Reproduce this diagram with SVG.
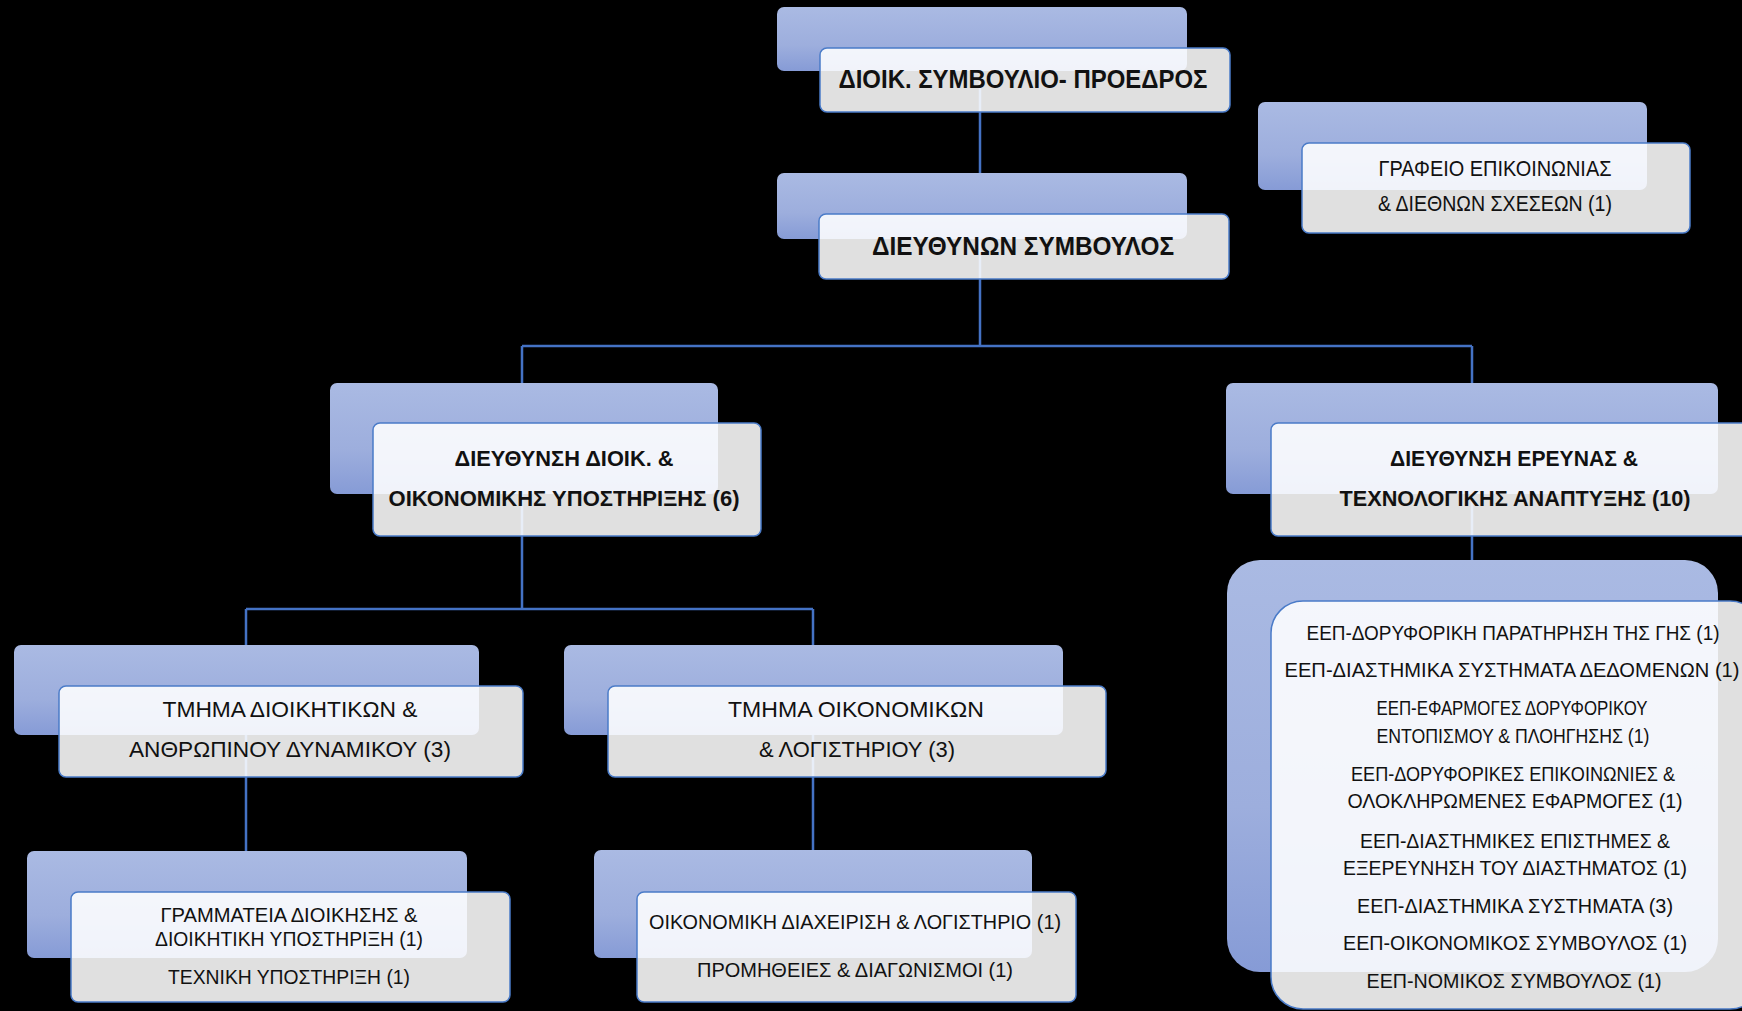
<svg xmlns="http://www.w3.org/2000/svg" width="1742" height="1011" viewBox="0 0 1742 1011">
<defs>
<linearGradient id="gb" x1="0" y1="0" x2="0" y2="1">
<stop offset="0" stop-color="#AABAE3"/>
<stop offset="0.6" stop-color="#9DAEDD"/>
<stop offset="1" stop-color="#869BD6"/>
</linearGradient>
<style>
.back{fill:url(#gb);}
.front{fill:#FFFFFF;fill-opacity:0.88;stroke:#4A7BC8;stroke-width:1.5;}
.t{font-family:"Liberation Sans",Arial,sans-serif;fill:#111111;text-anchor:middle;}
.b{font-weight:bold;}
.conn{stroke:#4472C4;stroke-width:2.5;fill:none;}
</style>
</defs>
<rect x="0" y="0" width="1742" height="1011" fill="#000000"/>
<g id="connectors">
<path class="conn" d="M980 80 V346"/>
<path class="conn" d="M522 346 H1472"/>
<path class="conn" d="M522 346 V609"/>
<path class="conn" d="M1472 346 V562"/>
<path class="conn" d="M246 609 H813"/>
<path class="conn" d="M246 609 V852"/>
<path class="conn" d="M813 609 V851"/>
</g>
<g id="node-board">
<rect class="back" x="777" y="7" width="410" height="64" rx="7"/>
<rect class="front" x="820" y="48" width="410" height="64" rx="7"/>
<text class="t b" x="1023" y="88" font-size="25" textLength="369" lengthAdjust="spacingAndGlyphs">ΔΙΟΙΚ. ΣΥΜΒΟΥΛΙΟ- ΠΡΟΕΔΡΟΣ</text>
</g>
<g id="node-ceo">
<rect class="back" x="777" y="173" width="410" height="66" rx="7"/>
<rect class="front" x="819" y="214" width="410" height="65" rx="7"/>
<text class="t b" x="1023" y="255" font-size="25" textLength="302" lengthAdjust="spacingAndGlyphs">ΔΙΕΥΘΥΝΩΝ ΣΥΜΒΟΥΛΟΣ</text>
</g>
<g id="node-comm">
<rect class="back" x="1258" y="102" width="389" height="88" rx="7"/>
<rect class="front" x="1302" y="143" width="388" height="90" rx="7"/>
<text class="t" x="1495" y="176" font-size="21.5" textLength="233" lengthAdjust="spacingAndGlyphs">ΓΡΑΦΕΙΟ ΕΠΙΚΟΙΝΩΝΙΑΣ</text>
<text class="t" x="1495" y="211" font-size="21.5" textLength="234" lengthAdjust="spacingAndGlyphs">&amp; ΔΙΕΘΝΩΝ ΣΧΕΣΕΩΝ (1)</text>
</g>
<g id="node-admin-dir">
<rect class="back" x="330" y="383" width="388" height="111" rx="7"/>
<rect class="front" x="373" y="423" width="388" height="113" rx="7"/>
<text class="t b" x="564" y="466" font-size="22" textLength="219" lengthAdjust="spacingAndGlyphs">ΔΙΕΥΘΥΝΣΗ ΔΙΟΙΚ. &amp;</text>
<text class="t b" x="564" y="506" font-size="22" textLength="351" lengthAdjust="spacingAndGlyphs">ΟΙΚΟΝΟΜΙΚΗΣ ΥΠΟΣΤΗΡΙΞΗΣ (6)</text>
</g>
<g id="node-research-dir">
<rect class="back" x="1226" y="383" width="492" height="111" rx="7"/>
<rect class="front" x="1271" y="423" width="492" height="113" rx="7"/>
<text class="t b" x="1514" y="466" font-size="22" textLength="248" lengthAdjust="spacingAndGlyphs">ΔΙΕΥΘΥΝΣΗ ΕΡΕΥΝΑΣ &amp;</text>
<text class="t b" x="1515" y="506" font-size="22" textLength="351" lengthAdjust="spacingAndGlyphs">ΤΕΧΝΟΛΟΓΙΚΗΣ ΑΝΑΠΤΥΞΗΣ (10)</text>
</g>
<g id="node-hr">
<rect class="back" x="14" y="645" width="465" height="90" rx="7"/>
<rect class="front" x="59" y="686" width="464" height="91" rx="7"/>
<text class="t" x="290" y="717" font-size="22.5" textLength="255" lengthAdjust="spacingAndGlyphs">ΤΜΗΜΑ ΔΙΟΙΚΗΤΙΚΩΝ &amp;</text>
<text class="t" x="290" y="757" font-size="22.5" textLength="322" lengthAdjust="spacingAndGlyphs">ΑΝΘΡΩΠΙΝΟΥ  ΔΥΝΑΜΙΚΟΥ (3)</text>
</g>
<g id="node-finance">
<rect class="back" x="564" y="645" width="499" height="90" rx="7"/>
<rect class="front" x="608" y="686" width="498" height="91" rx="7"/>
<text class="t" x="856" y="717" font-size="22.5" textLength="256" lengthAdjust="spacingAndGlyphs">ΤΜΗΜΑ ΟΙΚΟΝΟΜΙΚΩΝ</text>
<text class="t" x="857" y="757" font-size="22.5" textLength="196" lengthAdjust="spacingAndGlyphs">&amp; ΛΟΓΙΣΤΗΡΙΟΥ (3)</text>
</g>
<g id="node-secretariat">
<rect class="back" x="27" y="851" width="440" height="107" rx="7"/>
<rect class="front" x="71" y="892" width="439" height="110" rx="7"/>
<text class="t" x="289" y="922" font-size="19.5" textLength="257" lengthAdjust="spacingAndGlyphs">ΓΡΑΜΜΑΤΕΙΑ ΔΙΟΙΚΗΣΗΣ &amp;</text>
<text class="t" x="289" y="946" font-size="19.5" textLength="268" lengthAdjust="spacingAndGlyphs">ΔΙΟΙΚΗΤΙΚΗ ΥΠΟΣΤΗΡΙΞΗ (1)</text>
<text class="t" x="289" y="984" font-size="19.5" textLength="242" lengthAdjust="spacingAndGlyphs">ΤΕΧΝΙΚΗ ΥΠΟΣΤΗΡΙΞΗ (1)</text>
</g>
<g id="node-accounting">
<rect class="back" x="594" y="850" width="438" height="108" rx="7"/>
<rect class="front" x="637" y="892" width="439" height="110" rx="7"/>
<text class="t" x="855" y="929" font-size="20.5" textLength="412" lengthAdjust="spacingAndGlyphs">ΟΙΚΟΝΟΜΙΚΗ ΔΙΑΧΕΙΡΙΣΗ &amp; ΛΟΓΙΣΤΗΡΙΟ (1)</text>
<text class="t" x="855" y="977" font-size="20.5" textLength="316" lengthAdjust="spacingAndGlyphs">ΠΡΟΜΗΘΕΙΕΣ &amp; ΔΙΑΓΩΝΙΣΜΟΙ (1)</text>
</g>
<g id="node-research-units">
<rect class="back" x="1227" y="560" width="491" height="412" rx="33"/>
<rect class="front" x="1271" y="601" width="491" height="408" rx="32"/>
<text class="t" x="1513" y="640" font-size="21" textLength="413" lengthAdjust="spacingAndGlyphs">ΕΕΠ-ΔΟΡΥΦΟΡΙΚΗ ΠΑΡΑΤΗΡΗΣΗ ΤΗΣ ΓΗΣ (1)</text>
<text class="t" x="1512" y="677" font-size="21" textLength="455" lengthAdjust="spacingAndGlyphs">ΕΕΠ-ΔΙΑΣΤΗΜΙΚΑ ΣΥΣΤΗΜΑΤΑ ΔΕΔΟΜΕΝΩΝ (1)</text>
<text class="t" x="1512" y="715" font-size="21" textLength="271" lengthAdjust="spacingAndGlyphs">ΕΕΠ-ΕΦΑΡΜΟΓΕΣ ΔΟΡΥΦΟΡΙΚΟΥ</text>
<text class="t" x="1513" y="743" font-size="21" textLength="273" lengthAdjust="spacingAndGlyphs">ΕΝΤΟΠΙΣΜΟΥ &amp; ΠΛΟΗΓΗΣΗΣ (1)</text>
<text class="t" x="1513" y="781" font-size="21" textLength="324" lengthAdjust="spacingAndGlyphs">ΕΕΠ-ΔΟΡΥΦΟΡΙΚΕΣ ΕΠΙΚΟΙΝΩΝΙΕΣ &amp;</text>
<text class="t" x="1515" y="808" font-size="21" textLength="335" lengthAdjust="spacingAndGlyphs">ΟΛΟΚΛΗΡΩΜΕΝΕΣ ΕΦΑΡΜΟΓΕΣ (1)</text>
<text class="t" x="1515" y="848" font-size="21" textLength="310" lengthAdjust="spacingAndGlyphs">ΕΕΠ-ΔΙΑΣΤΗΜΙΚΕΣ ΕΠΙΣΤΗΜΕΣ &amp;</text>
<text class="t" x="1515" y="875" font-size="21" textLength="344" lengthAdjust="spacingAndGlyphs">ΕΞΕΡΕΥΝΗΣΗ ΤΟΥ ΔΙΑΣΤΗΜΑΤΟΣ (1)</text>
<text class="t" x="1515" y="913" font-size="21" textLength="316" lengthAdjust="spacingAndGlyphs">ΕΕΠ-ΔΙΑΣΤΗΜΙΚΑ ΣΥΣΤΗΜΑΤΑ (3)</text>
<text class="t" x="1515" y="950" font-size="21" textLength="344" lengthAdjust="spacingAndGlyphs">ΕΕΠ-ΟΙΚΟΝΟΜΙΚΟΣ ΣΥΜΒΟΥΛΟΣ (1)</text>
<text class="t" x="1514" y="988" font-size="21" textLength="295" lengthAdjust="spacingAndGlyphs">ΕΕΠ-ΝΟΜΙΚΟΣ ΣΥΜΒΟΥΛΟΣ (1)</text>
</g>
</svg>
